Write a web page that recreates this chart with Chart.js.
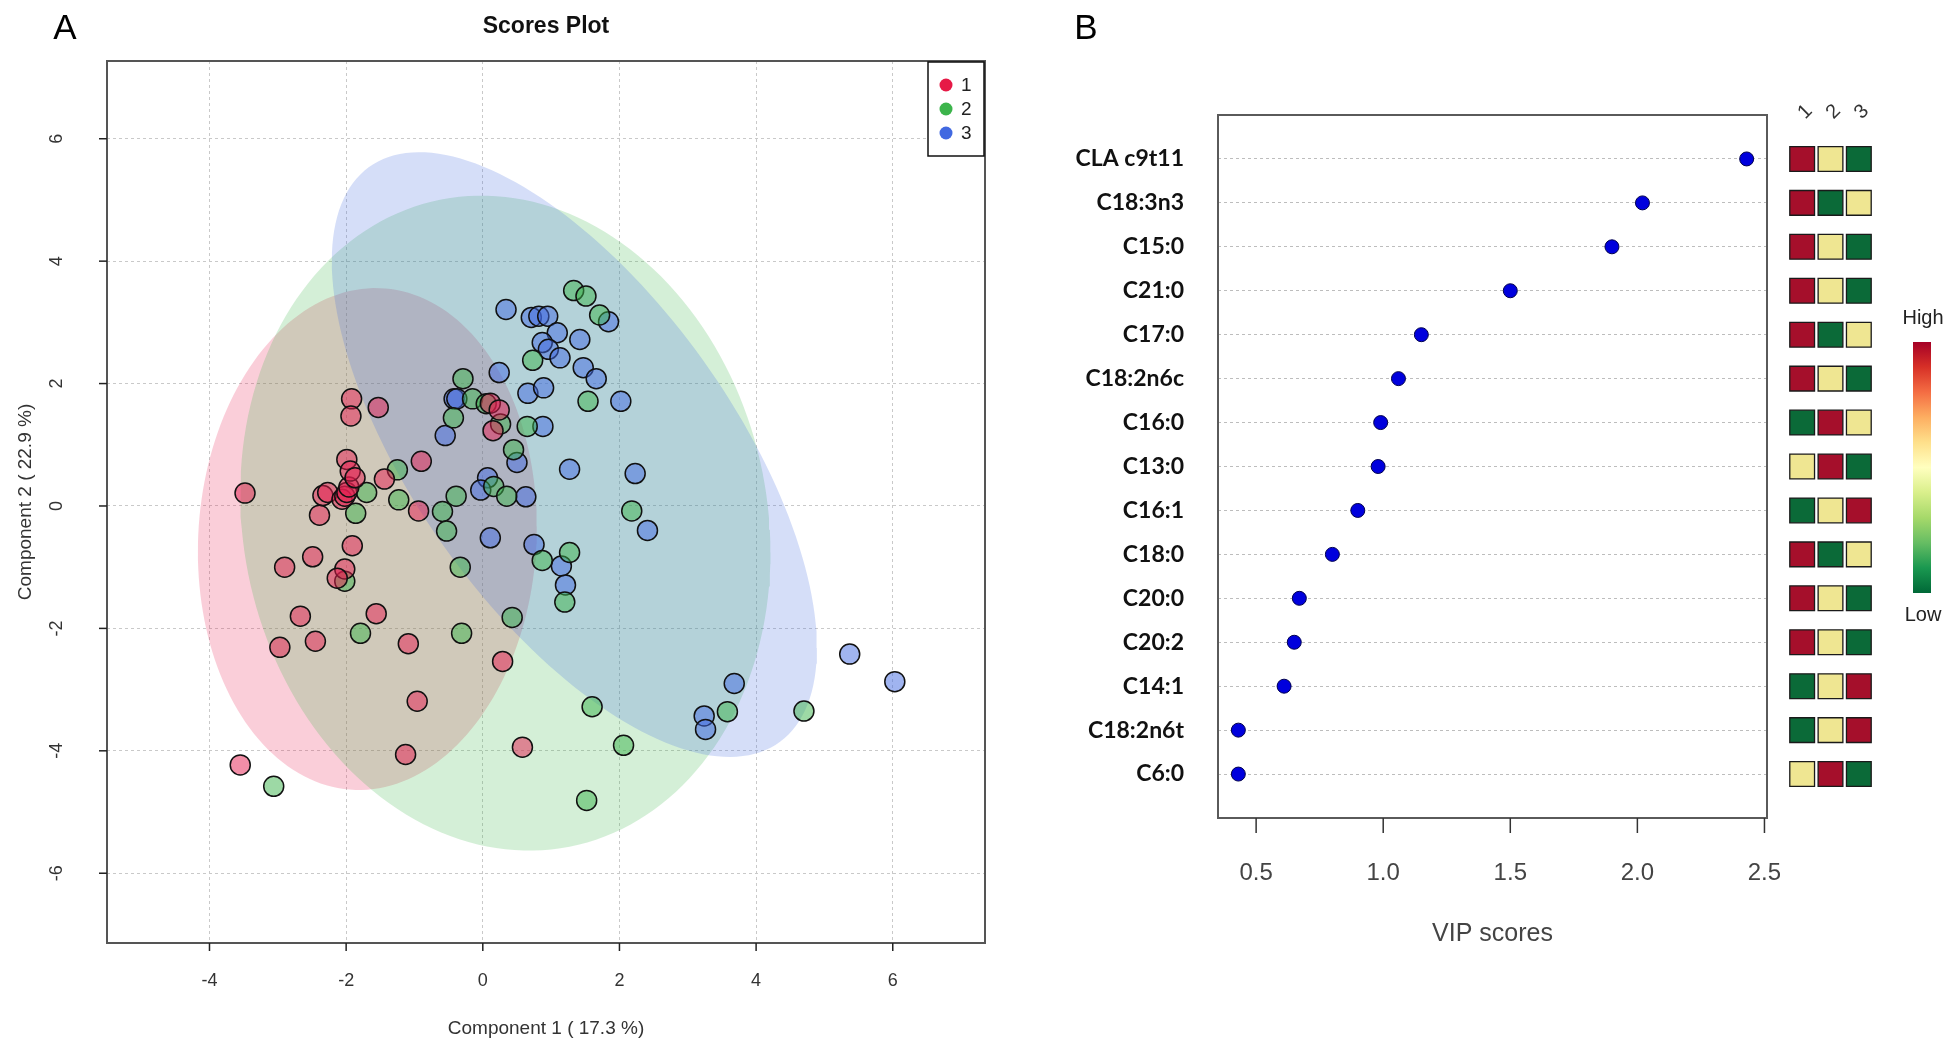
<!DOCTYPE html>
<html>
<head>
<meta charset="utf-8">
<title>Scores plot and VIP scores</title>
<script src="https://cdn.jsdelivr.net/npm/chart.js@4.4.1/dist/chart.umd.min.js"></script>
<style>
  html, body { margin: 0; padding: 0; background: #fff; }
  body { width: 1959px; height: 1045px; position: relative; overflow: hidden; }
  canvas { position: absolute; top: 0; display: block; }
</style>
</head>
<body>
<canvas id="scoresChart" width="1000" height="1045" style="left:0"></canvas>
<canvas id="vipChart" width="780" height="1045" style="left:1000px"></canvas>
<canvas id="heatChart" width="179" height="1045" style="left:1780px"></canvas>
<script>
// ---------- panel A data (PLS-DA scores) ----------
const groupNames = ["1", "2", "3"];
const group1X = [-3.48, -3.55, -2.90, -2.97, -2.67, -2.45, -2.49, -2.39, -2.34, -2.27, -2.06, -2.02, -1.99, -1.96, -1.99, -1.94, -1.87, -1.92, -1.93, -1.53, -1.44, -1.91, -2.02, -2.13, -1.56, -1.09, -0.96, -1.13, -0.90, -0.94, 0.11, 0.24, 0.15, 0.29, 0.58];
const group1Y = [0.21, -4.23, -1.00, -2.31, -1.80, -2.21, -0.83, -0.15, 0.17, 0.22, 0.11, 0.16, 0.22, 0.31, 0.76, 0.57, 0.46, 1.75, 1.47, 1.61, 0.44, -0.65, -1.03, -1.18, -1.76, -2.25, -3.19, -4.06, 0.73, -0.08, 1.68, 1.57, 1.23, -2.54, -3.94];
const group2X = [-3.06, -2.02, -1.86, -1.70, -1.79, -1.25, -1.23, -0.59, -0.53, -0.43, -0.39, -0.33, -0.31, -0.29, -0.15, 0.05, 0.26, 0.16, 0.35, 0.45, 0.43, 0.65, 0.73, 0.87, 1.27, 1.20, 1.33, 1.51, 1.71, 1.54, 2.18, 1.60, 2.06, 1.52, 3.58, 4.70];
const group2Y = [-4.58, -1.23, -0.12, 0.22, -2.08, 0.59, 0.10, -0.09, -0.41, 1.44, 0.16, -1.00, -2.08, 2.08, 1.75, 1.67, 1.34, 0.32, 0.16, 0.92, -1.82, 1.30, 2.38, -0.89, -0.76, -1.57, 3.52, 3.43, 3.12, 1.71, -0.08, -3.28, -3.91, -4.81, -3.36, -3.35];
const group3X = [0.34, 0.71, 0.82, 0.95, 1.09, 0.87, 0.96, 1.13, 1.42, 1.84, 1.47, 1.66, 0.24, 0.66, 0.89, 0.88, 2.02, -0.42, -0.38, -0.55, 0.50, 0.07, -0.03, 0.63, 1.27, 2.23, 2.41, 0.11, 0.75, 1.15, 1.21, 3.68, 3.24, 3.26, 5.37, 6.03];
const group3Y = [3.21, 3.08, 3.10, 3.10, 2.83, 2.67, 2.56, 2.42, 2.72, 3.01, 2.26, 2.08, 2.18, 1.84, 1.93, 1.30, 1.71, 1.75, 1.75, 1.15, 0.71, 0.46, 0.26, 0.15, 0.60, 0.53, -0.40, -0.52, -0.63, -0.98, -1.29, -2.90, -3.43, -3.65, -2.42, -2.87];

// 95% regions: centre, half extent along each axis, correlation
const ellipseCenterX = [-1.69, 0.33, 1.34];
const ellipseCenterY = [-0.54, -0.28, 0.84];
const ellipseHalfX = [2.48, 3.88, 3.55];
const ellipseHalfY = [4.10, 5.35, 4.94];
const ellipseCorr = [0.05, -0.09, -0.64];

// ---------- panel B data (VIP scores) ----------
const fattyAcids = ["CLA c9t11", "C18:3n3", "C15:0", "C21:0", "C17:0", "C18:2n6c", "C16:0", "C13:0", "C16:1", "C18:0", "C20:0", "C20:2", "C14:1", "C18:2n6t", "C6:0"];
const vipScores = [2.43, 2.02, 1.90, 1.50, 1.15, 1.06, 0.99, 0.98, 0.90, 0.80, 0.67, 0.65, 0.61, 0.43, 0.43];
// relative level per group: 3 = high, 2 = middle, 1 = low
const heatGroup1 = [3, 3, 3, 3, 3, 3, 1, 2, 1, 3, 3, 3, 1, 1, 2];
const heatGroup2 = [2, 1, 2, 2, 1, 2, 3, 3, 2, 1, 2, 2, 2, 2, 3];
const heatGroup3 = [1, 2, 1, 1, 2, 1, 2, 1, 3, 2, 1, 1, 3, 3, 1];

const solidColors = ["rgb(230,25,70)", "rgb(60,180,75)", "rgb(65,105,225)"];
const pointFills = ["rgba(230,30,80,0.5)", "rgba(60,180,75,0.5)", "rgba(65,105,225,0.5)"];
const regionFills = ["rgba(230,30,80,0.22)", "rgba(60,180,75,0.22)", "rgba(65,105,225,0.22)"];
const heatColors = { 1: "#0b6a38", 2: "#efe692", 3: "#a50f2b" };

const sansFont = "'Liberation Sans', Arial, sans-serif";

function ellipseOutline(i) {
  const pts = [];
  const r = ellipseCorr[i];
  for (let k = 0; k <= 180; k++) {
    const t = (k / 180) * 2 * Math.PI;
    pts.push({
      x: ellipseCenterX[i] + ellipseHalfX[i] * Math.cos(t),
      y: ellipseCenterY[i] + ellipseHalfY[i] * (r * Math.cos(t) + Math.sqrt(1 - r * r) * Math.sin(t)),
    });
  }
  return pts;
}

const groupsX = [group1X, group2X, group3X];
const groupsY = [group1Y, group2Y, group3Y];

// !======= panel A decorations =========
const scoresDecor = {
  id: "scoresDecor",
  afterDraw(chart) {
    const { ctx, chartArea: a, scales } = chart;
    const xs = scales.x, ys = scales.y;
    ctx.save();
    ctx.strokeStyle = "#555";
    ctx.lineWidth = 2;
    ctx.strokeRect(a.left, a.top, a.right - a.left, a.bottom - a.top);

    ctx.strokeStyle = "#222";
    ctx.lineWidth = 1.5;
    ctx.fillStyle = "#333";
    ctx.font = "18px " + sansFont;
    ctx.textAlign = "center";
    ctx.textBaseline = "middle";
    xs.ticks.forEach((t) => {
      const px = xs.getPixelForValue(t.value);
      ctx.beginPath();
      ctx.moveTo(px, a.bottom);
      ctx.lineTo(px, a.bottom + 8);
      ctx.stroke();
      ctx.fillText(String(t.value), px, 981);
    });
    ys.ticks.forEach((t) => {
      const py = ys.getPixelForValue(t.value);
      ctx.beginPath();
      ctx.moveTo(a.left - 8, py);
      ctx.lineTo(a.left, py);
      ctx.stroke();
      ctx.save();
      ctx.translate(57, py);
      ctx.rotate(-Math.PI / 2);
      ctx.fillText(String(t.value), 0, 0);
      ctx.restore();
    });

    ctx.font = "19px " + sansFont;
    ctx.fillText("Component 1 ( 17.3 %)", (a.left + a.right) / 2, 1029);
    ctx.save();
    ctx.translate(26, (a.top + a.bottom) / 2);
    ctx.rotate(-Math.PI / 2);
    ctx.fillText("Component 2 ( 22.9 %)", 0, 0);
    ctx.restore();

    ctx.fillStyle = "#111";
    ctx.font = "bold 23px " + sansFont;
    ctx.fillText("Scores Plot", (a.left + a.right) / 2, 27);
    ctx.font = "35px " + sansFont;
    ctx.fillStyle = "#000";
    ctx.fillText("A", 65, 29);

    // legend
    ctx.fillStyle = "#fff";
    ctx.fillRect(928, 62, 56, 94);
    ctx.strokeStyle = "#111";
    ctx.lineWidth = 1.5;
    ctx.strokeRect(928, 62, 56, 94);
    ctx.font = "19px " + sansFont;
    ctx.textAlign = "left";
    groupNames.forEach((g, i) => {
      const ly = 85 + i * 24;
      ctx.fillStyle = solidColors[i];
      ctx.beginPath();
      ctx.arc(946, ly, 6.5, 0, Math.PI * 2);
      ctx.fill();
      ctx.fillStyle = "#222";
      ctx.fillText(g, 961, ly + 1);
    });
    ctx.restore();
  },
};

const scoreDatasets = [];
groupNames.forEach((g, i) => {
  scoreDatasets.push({
    type: "line",
    data: ellipseOutline(i),
    fill: "shape",
    backgroundColor: regionFills[i],
    borderWidth: 0,
    pointRadius: 0,
    tension: 0,
    order: 3 - i + 2,
  });
});
groupNames.forEach((g, i) => {
  scoreDatasets.push({
    label: g,
    data: groupsX[i].map((x, k) => ({ x: x, y: groupsY[i][k] })),
    backgroundColor: pointFills[i],
    borderColor: "#111",
    borderWidth: 1.5,
    pointRadius: 10,
    order: 1,
  });
});

const dottedGrid = { color: "#c9c9c9", lineWidth: 1, drawTicks: false };

new Chart(document.getElementById("scoresChart"), {
  type: "scatter",
  data: { datasets: scoreDatasets },
  options: {
    responsive: false,
    animation: false,
    events: [],
    layout: { autoPadding: false, padding: { left: 107, right: 15, top: 61, bottom: 102 } },
    plugins: { legend: { display: false }, tooltip: { enabled: false } },
    scales: {
      x: {
        type: "linear", min: -5.5, max: 7.35,
        ticks: { stepSize: 2, display: false, includeBounds: false },
        grid: dottedGrid,
        border: { display: false, dash: [3, 3] },
      },
      y: {
        type: "linear", min: -7.14, max: 7.27,
        ticks: { stepSize: 2, display: false, includeBounds: false },
        grid: dottedGrid,
        border: { display: false, dash: [3, 3] },
      },
    },
  },
  plugins: [scoresDecor],
});

// !======= panel B: VIP dot chart =========
const rowCount = fattyAcids.length;

const vipDecor = {
  id: "vipDecor",
  afterDraw(chart) {
    const { ctx, chartArea: a, scales } = chart;
    const xs = scales.x, ys = scales.y;
    ctx.save();
    ctx.strokeStyle = "#5a5a5a";
    ctx.lineWidth = 2;
    ctx.strokeRect(a.left, a.top, a.right - a.left, a.bottom - a.top);

    ctx.fillStyle = "#111";
    ctx.font = "bold 23px Lato, 'Open Sans', sans-serif";
    ctx.textAlign = "right";
    ctx.textBaseline = "middle";
    fattyAcids.forEach((name, i) => {
      ctx.fillText(name, 184, ys.getPixelForValue(rowCount - i));
    });

    ctx.strokeStyle = "#333";
    ctx.lineWidth = 1.5;
    ctx.fillStyle = "#444";
    ctx.font = "24px " + sansFont;
    ctx.textAlign = "center";
    xs.ticks.forEach((t) => {
      const px = xs.getPixelForValue(t.value);
      ctx.beginPath();
      ctx.moveTo(px, a.bottom);
      ctx.lineTo(px, a.bottom + 15);
      ctx.stroke();
      ctx.fillText(t.value.toFixed(1), px, 873);
    });
    ctx.font = "25px " + sansFont;
    ctx.fillText("VIP scores", (a.left + a.right) / 2, 934);

    ctx.fillStyle = "#000";
    ctx.font = "35px " + sansFont;
    ctx.fillText("B", 86, 29);
    ctx.restore();
  },
};

new Chart(document.getElementById("vipChart"), {
  type: "scatter",
  data: {
    datasets: [{
      data: vipScores.map((v, i) => ({ x: v, y: rowCount - i })),
      backgroundColor: "#0000dd",
      borderColor: "#00004d",
      borderWidth: 1,
      pointRadius: 7,
    }],
  },
  options: {
    responsive: false,
    animation: false,
    events: [],
    layout: { autoPadding: false, padding: { left: 218, right: 13, top: 115, bottom: 227 } },
    plugins: { legend: { display: false }, tooltip: { enabled: false } },
    scales: {
      x: {
        type: "linear", min: 0.35, max: 2.51,
        ticks: { stepSize: 0.5, display: false, includeBounds: false },
        grid: { display: false, drawTicks: false },
        border: { display: false },
      },
      y: {
        type: "linear", min: 0, max: rowCount + 1,
        ticks: { stepSize: 1, display: false, includeBounds: false },
        grid: {
          drawTicks: false,
          lineWidth: 1,
          color: (c) => (c.tick && (c.tick.value === 0 || c.tick.value === rowCount + 1) ? "rgba(0,0,0,0)" : "#bdbdbd"),
        },
        border: { display: false, dash: [3, 3] },
      },
    },
  },
  plugins: [vipDecor],
});

// !======= panel B: group heat map =========
const heatCells = [];
[heatGroup1, heatGroup2, heatGroup3].forEach((col, c) => {
  col.forEach((level, i) => {
    heatCells.push({ x: c + 1, y: rowCount - i, level: level });
  });
});

const heatDecor = {
  id: "heatDecor",
  afterDraw(chart) {
    const { ctx, scales } = chart;
    const xs = scales.x;
    ctx.save();
    ctx.fillStyle = "#333";
    ctx.font = "20px " + sansFont;
    ctx.textAlign = "center";
    ctx.textBaseline = "middle";
    groupNames.forEach((g, i) => {
      ctx.save();
      ctx.translate(xs.getPixelForValue(i + 1) + 3, 112);
      ctx.rotate(-Math.PI / 4);
      ctx.fillText(g, 0, 0);
      ctx.restore();
    });

    // colour key
    const grad = ctx.createLinearGradient(0, 342, 0, 593);
    const stops = ["#a50026", "#d73027", "#f46d43", "#fdae61", "#fee08b", "#ffffbf", "#d9ef8b", "#a6d96a", "#66bd63", "#1a9850", "#006837"];
    stops.forEach((s, k) => grad.addColorStop(k / (stops.length - 1), s));
    ctx.fillStyle = grad;
    ctx.fillRect(133, 342, 18, 251);
    ctx.fillStyle = "#222";
    ctx.font = "20px " + sansFont;
    ctx.fillText("High", 143, 318);
    ctx.fillText("Low", 143, 615);
    ctx.restore();
  },
};

new Chart(document.getElementById("heatChart"), {
  type: "scatter",
  data: {
    datasets: [{
      data: heatCells,
      pointStyle: "rect",
      pointRadius: 17.5,
      backgroundColor: heatCells.map((d) => heatColors[d.level]),
      borderColor: "#1a1a1a",
      borderWidth: 1.3,
      clip: false,
    }],
  },
  options: {
    responsive: false,
    animation: false,
    events: [],
    layout: { autoPadding: false, padding: { left: 8, right: 86, top: 115, bottom: 227 } },
    plugins: { legend: { display: false }, tooltip: { enabled: false } },
    scales: {
      x: { type: "linear", min: 0.5, max: 3.5, display: false },
      y: { type: "linear", min: 0, max: rowCount + 1, display: false },
    },
  },
  plugins: [heatDecor],
});
</script>
</body>
</html>
